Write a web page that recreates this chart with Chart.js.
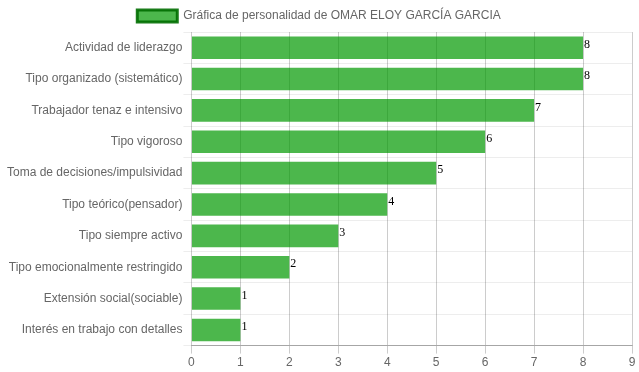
<!DOCTYPE html>
<html>
<head>
<meta charset="utf-8">
<script src="https://cdn.jsdelivr.net/npm/chart.js@4"></script>
<style>
  html, body { margin: 0; padding: 0; background: #fff; }
  #wrap { width: 639px; height: 372px; position: relative; }
</style>
</head>
<body>
<div id="wrap"><canvas id="chart"></canvas></div>
<script>
// Personality traits and their scores
const traits = [
    'Actividad de liderazgo',
    'Tipo organizado (sistemático)',
    'Trabajador tenaz e intensivo',
    'Tipo vigoroso',
    'Toma de decisiones/impulsividad',
    'Tipo teórico(pensador)',
    'Tipo siempre activo',
    'Tipo emocionalmente restringido',
    'Extensión social(sociable)',
    'Interés en trabajo con detalles'
];
const scores = [8, 8, 7, 6, 5, 4, 3, 2, 1, 1];
const seriesName = 'Gráfica de personalidad de OMAR ELOY GARCÍA GARCIA';

Chart.defaults.font.family = '"Liberation Sans", Arial, sans-serif';
Chart.defaults.font.size = 12;
Chart.defaults.color = '#666';

// Draw the value at the end of each bar
const valueLabels = {
    id: 'valueLabels',
    afterDatasetsDraw(chart) {
        const ctx = chart.ctx;
        const meta = chart.getDatasetMeta(0);
        ctx.save();
        ctx.font = '12px "Liberation Serif", "Times New Roman", serif';
        ctx.fillStyle = '#000';
        ctx.textAlign = 'left';
        ctx.textBaseline = 'middle';
        meta.data.forEach((bar, i) => {
            ctx.fillText(scores[i], bar.x + 1, bar.y - 3);
        });
        ctx.restore();
    }
};

new Chart(document.getElementById('chart'), {
    type: 'bar',
    data: {
        labels: traits,
        datasets: [{
            label: seriesName,
            data: scores,
            backgroundColor: 'rgba(0, 153, 0, 0.7)',
            borderColor: 'rgba(0, 110, 0, 0.9)',
            borderWidth: 0
        }]
    },
    options: {
        indexAxis: 'y',
        responsive: true,
        maintainAspectRatio: false,
        animation: false,
        layout: { padding: { left: 6, right: 7, top: 0, bottom: 0 } },
        plugins: {
            legend: {
                labels: {
                    boxWidth: 40,
                    boxHeight: 12,
                    padding: 10,
                    generateLabels(chart) {
                        const items = Chart.defaults.plugins.legend.labels.generateLabels(chart);
                        items.forEach(item => {
                            item.lineWidth = 3;
                            item.strokeStyle = 'rgba(0, 110, 0, 0.9)';
                        });
                        return items;
                    }
                }
            },
            tooltip: { enabled: false }
        },
        scales: {
            x: {
                min: 0,
                max: 9,
                ticks: { stepSize: 1, padding: 2 },
                grid: {
                    color: 'rgba(0, 0, 0, 0.2)',
                    tickLength: 8
                },
                border: { color: 'rgba(0, 0, 0, 0.3)' }
            },
            y: {
                ticks: { padding: 1 },
                grid: {
                    color: 'rgba(0, 0, 0, 0.07)',
                    tickLength: 8
                },
                border: { display: false }
            }
        }
    },
    plugins: [valueLabels]
});
</script>
</body>
</html>
